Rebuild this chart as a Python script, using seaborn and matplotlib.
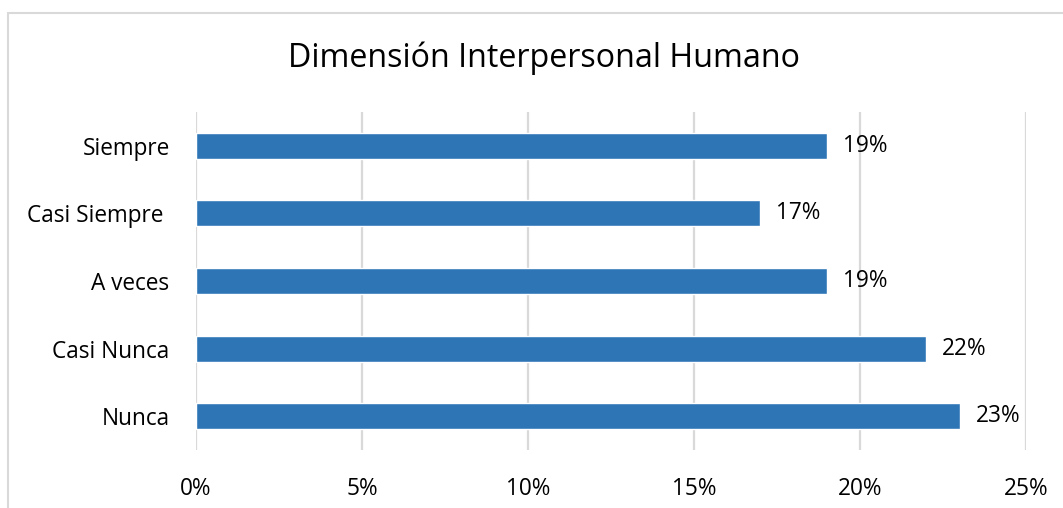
import matplotlib
matplotlib.use("Agg")
import matplotlib.pyplot as plt
import seaborn as sns
import pandas as pd
from matplotlib.patches import Rectangle

categories = ["Siempre", "Casi Siempre ", "A veces", "Casi Nunca", "Nunca"]
values = [19, 17, 19, 22, 23]
x_ticks = [0, 5, 10, 15, 20, 25]
title = "Dimensión Interpersonal Humano"

sns.set_theme(style="white")
plt.rcParams["font.family"] = ["Open Sans", "DejaVu Sans"]

W, H = 1063, 508
fig = plt.figure(figsize=(W / 100, H / 100), dpi=100)

# plot area in pixel coordinates
left, right, top, bottom = 196, 1026, 112, 450
ax = fig.add_axes([left / W, 1 - bottom / H, (right - left) / W, (bottom - top) / H])

df = pd.DataFrame({"cat": categories, "val": values})
sns.barplot(data=df, x="val", y="cat", orient="h", color="#2E75B6",
            saturation=1, width=0.385, ax=ax, zorder=3)

fs = 16.3
ax.set_xlim(0, 25)
ax.set_ylim(len(categories) - 0.5, -0.5)
ax.set_xticks(x_ticks)
ax.set_xticklabels([f"{t}%" for t in x_ticks], fontsize=fs, color="#000000")
ax.tick_params(axis="x", length=0, pad=19.5)
ax.tick_params(axis="y", length=0, pad=19, labelsize=fs, labelcolor="#000000")
ax.set_xlabel("")
ax.set_ylabel("")
for s in ax.spines.values():
    s.set_visible(False)
ax.grid(axis="x", color="#D9D9D9", linewidth=1.6, zorder=0)
ax.grid(axis="y", visible=False)

for i, v in enumerate(values):
    ax.annotate(f"{v}%", xy=(v, i), xytext=(11.5, 0), textcoords="offset points",
                va="center", ha="left", fontsize=fs, color="#000000")

fig.text(544 / W, 1 - 58 / H, title,
         ha="center", va="center", fontsize=23.2, color="#000000")

# chart frame
fig.patches.append(Rectangle((8 / W, -0.1), 1.2, 1 - 13 / H + 0.1,
                             transform=fig.transFigure, fill=False,
                             edgecolor="#D9D9D9", linewidth=1.5))

fig.savefig("out.png", dpi=100)
